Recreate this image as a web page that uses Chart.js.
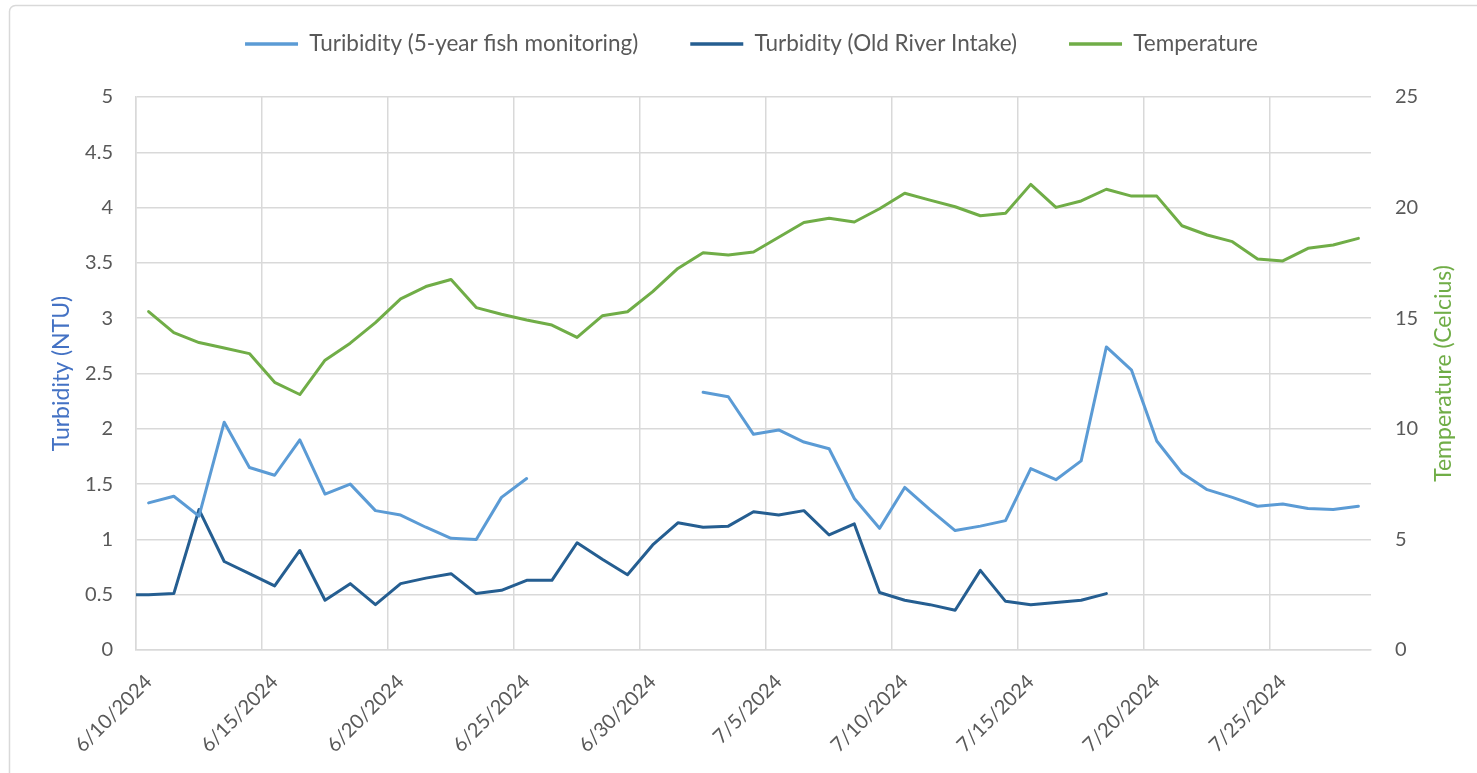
<!DOCTYPE html>
<html><head><meta charset="utf-8">
<script src="https://cdn.jsdelivr.net/npm/chart.js@4.4.1/dist/chart.umd.min.js"></script>
<style>html,body{margin:0;padding:0;background:#fff;}canvas{display:block;}</style>
</head><body>
<canvas id="c" width="1477" height="773"></canvas>
<script>
// Dates (6/9 included only because the Old River series starts just before the axis minimum)
const dates = [
  '6/9/2024','6/10/2024','6/11/2024','6/12/2024','6/13/2024','6/14/2024','6/15/2024','6/16/2024','6/17/2024','6/18/2024',
  '6/19/2024','6/20/2024','6/21/2024','6/22/2024','6/23/2024','6/24/2024','6/25/2024','6/26/2024','6/27/2024','6/28/2024',
  '6/29/2024','6/30/2024','7/1/2024','7/2/2024','7/3/2024','7/4/2024','7/5/2024','7/6/2024','7/7/2024','7/8/2024',
  '7/9/2024','7/10/2024','7/11/2024','7/12/2024','7/13/2024','7/14/2024','7/15/2024','7/16/2024','7/17/2024','7/18/2024',
  '7/19/2024','7/20/2024','7/21/2024','7/22/2024','7/23/2024','7/24/2024','7/25/2024','7/26/2024','7/27/2024','7/28/2024'
];
const tickDates = ['6/10/2024','6/15/2024','6/20/2024','6/25/2024','6/30/2024','7/5/2024','7/10/2024','7/15/2024','7/20/2024','7/25/2024'];

const fishTurbidity = [
  null,
  1.33, 1.39, 1.21, 2.06, 1.65, 1.58, 1.90, 1.41, 1.50, 1.26,
  1.22, 1.11, 1.01, 1.00, 1.38, 1.55, null, null, null, null,
  null, null, 2.33, 2.29, 1.95, 1.99, 1.88, 1.82, 1.37, 1.10,
  1.47, 1.27, 1.08, 1.12, 1.17, 1.64, 1.54, 1.71, 2.74, 2.53,
  1.89, 1.60, 1.45, 1.38, 1.30, 1.32, 1.28, 1.27, 1.30
];
const oldRiverTurbidity = [
  0.50,
  0.50, 0.51, 1.27, 0.80, 0.69, 0.58, 0.90, 0.45, 0.60, 0.41,
  0.60, 0.65, 0.69, 0.51, 0.54, 0.63, 0.63, 0.97, 0.82, 0.68,
  0.95, 1.15, 1.11, 1.12, 1.25, 1.22, 1.26, 1.04, 1.14, 0.52,
  0.45, 0.41, 0.36, 0.72, 0.44, 0.41, 0.43, 0.45, 0.51, null,
  null, null, null, null, null, null, null, null, null
];
const temperature = [
  null,
  15.30, 14.35, 13.90, 13.65, 13.40, 12.10, 11.55, 13.10, 13.87, 14.80,
  15.87, 16.43, 16.75, 15.48, 15.18, 14.92, 14.69, 14.13, 15.11, 15.29,
  16.20, 17.25, 17.96, 17.86, 17.99, 18.66, 19.33, 19.52, 19.35, 19.95,
  20.65, 20.34, 20.04, 19.63, 19.74, 21.05, 20.01, 20.30, 20.83, 20.52,
  20.52, 19.18, 18.76, 18.46, 17.68, 17.59, 18.16, 18.31, 18.61
];
const turbidityTicks = [0, 0.5, 1, 1.5, 2, 2.5, 3, 3.5, 4, 4.5, 5];
const temperatureTicks = [0, 5, 10, 15, 20, 25];

const FONT = 'Lato';
const TICK_COLOR = '#595959';
const GRID = '#d9d9d9';
const LEGEND_SIZE = 22.5;
const TITLE_SIZE = 23;
const TICK_SIZE = 20;

const toPoints = arr => arr.map((v, i) => ({x: i + 0.5, y: v}));

const framePlugin = {
  id: 'frame',
  beforeLayout(chart) {
    const lg = chart.legend;
    if (lg && !lg.__patched) {
      const orig = lg.fit;
      lg.fit = function () { orig.call(this); this.height = 97; };
      lg.__patched = true;
    }
  },
  afterLayout(chart) {
    const lg = chart.legend;
    if (lg) { lg.top -= 19.25; lg.bottom -= 19.25; lg.left += 13; lg.right += 13; }
  },
  beforeDraw(chart) {
    const ctx = chart.ctx;
    ctx.save();
    ctx.fillStyle = '#ffffff';
    ctx.fillRect(0, 0, chart.width, chart.height);
    ctx.strokeStyle = GRID;
    ctx.lineWidth = 1.5;
    ctx.beginPath();
    ctx.roundRect(9.5, 5.5, chart.width + 20, chart.height + 20, 6);
    ctx.stroke();
    ctx.restore();
  },
  afterDraw(chart) {
    const ctx = chart.ctx;
    const area = chart.chartArea;
    ctx.save();
    ctx.translate(1444, (area.top + area.bottom) / 2);
    ctx.rotate(-Math.PI / 2);
    ctx.font = TITLE_SIZE + 'px ' + FONT;
    ctx.fillStyle = '#70AD47';
    ctx.textAlign = 'center';
    ctx.textBaseline = 'middle';
    ctx.fillText('Temperature (Celcius)', 0, 0);
    ctx.restore();
  }
};

const ds = (label, values, color, axis) => ({
  label, data: toPoints(values), borderColor: color, backgroundColor: color,
  pointBorderWidth: 3.5, pointStyle: 'line', yAxisID: axis
});

new Chart(document.getElementById('c'), {
  type: 'line',
  data: {
    datasets: [
      ds('Turibidity (5-year fish monitoring)', fishTurbidity, '#5B9BD5', 'y'),
      ds('Turbidity (Old River Intake)', oldRiverTurbidity, '#255E91', 'y'),
      ds('Temperature', temperature, '#70AD47', 'y2')
    ]
  },
  options: {
    responsive: false,
    animation: false,
    devicePixelRatio: 1,
    layout: {padding: 0},
    elements: {
      line: {borderWidth: 3, tension: 0, borderJoinStyle: 'round', borderCapStyle: 'round'},
      point: {radius: 0, hoverRadius: 0}
    },
    spanGaps: false,
    plugins: {
      tooltip: {enabled: false},
      legend: {
        position: 'top',
        labels: {
          usePointStyle: true,
          pointStyle: 'line',
          pointStyleWidth: 53,
          padding: 52,
          color: TICK_COLOR,
          font: {family: FONT, size: LEGEND_SIZE}
        }
      }
    },
    scales: {
      x: {
        type: 'linear',
        min: 1,
        max: 50,
        afterBuildTicks: axis => { axis.ticks = tickDates.map(d => ({value: dates.indexOf(d)})); },
        afterFit: axis => { axis.height = 123; },
        grid: {color: GRID, lineWidth: 1.5, drawTicks: false},
        border: {color: GRID, width: 1.5},
        ticks: {
          autoSkip: false,
          minRotation: 45,
          maxRotation: 45,
          padding: 20,
          labelOffset: 12.6,
          color: TICK_COLOR,
          font: {family: FONT, size: TICK_SIZE},
          callback: v => dates[v]
        }
      },
      y: {
        position: 'left',
        min: 0,
        max: 5,
        afterBuildTicks: axis => { axis.ticks = turbidityTicks.map(v => ({value: v})); },
        afterFit: axis => { axis.width = 136; },
        grid: {color: GRID, lineWidth: 1.5, drawTicks: false},
        border: {color: GRID, width: 1.5},
        ticks: {padding: 23, color: TICK_COLOR, font: {family: FONT, size: TICK_SIZE}, callback: v => String(v)},
        title: {display: true, text: 'Turbidity (NTU)', color: '#4472C4', font: {family: FONT, size: TITLE_SIZE}, padding: {top: 48, bottom: 0}}
      },
      y2: {
        position: 'right',
        min: 0,
        max: 25,
        afterBuildTicks: axis => { axis.ticks = temperatureTicks.map(v => ({value: v})); },
        afterFit: axis => { axis.width = 106; },
        grid: {display: false, drawTicks: false},
        border: {display: false},
        ticks: {padding: 24, color: TICK_COLOR, font: {family: FONT, size: TICK_SIZE}, callback: v => String(v)}
      }
    }
  },
  plugins: [framePlugin]
});
</script>
</body></html>
